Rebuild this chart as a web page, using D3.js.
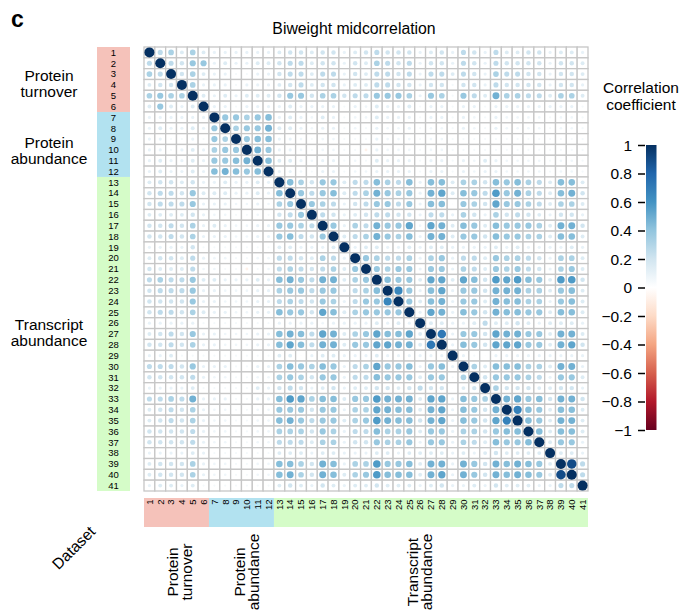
<!DOCTYPE html>
<html>
<head>
<meta charset="utf-8">
<script src="https://cdn.jsdelivr.net/npm/d3@7"></script>
<style>
body { margin: 0; background: #fff; }
text { font-family: "Liberation Sans", Arial, Helvetica, sans-serif; fill: #000; }
</style>
</head>
<body>
<script>
// dataset ids, 1..41
var datasets = d3.range(1, 42).map(String)

// dataset groups
var groupNames = [['Protein', 'turnover'], ['Protein', 'abundance'], ['Transcript', 'abundance']]
var groupStart = [1, 7, 13]
var groupEnd = [6, 12, 41]
var groupColors = ['#f5c2ba', '#b2e2f0', '#d5fcc8']

// colour bar ticks
var legendTicks = [1, 0.8, 0.6, 0.4, 0.2, 0, -0.2, -0.4, -0.6, -0.8, -1]

// corrplot palette (col2 / RdBu), from -1 to 1
var palette = ['#67001F', '#B2182B', '#D6604D', '#F4A582', '#FDDBC7', '#FFFFFF',
    '#D1E5F0', '#92C5DE', '#4393C3', '#2166AC', '#053061']

// lower triangle of the symmetric matrix: row i holds columns 1..i-1
var corrLower = [
    [],
    [0.26],
    [0.32, 0.26],
    [0.15, 0.2, 0.2],
    [0.32, 0.38, 0.32, 0.32],
    [0.15, 0.38, 0.15, 0.1, 0.15],
    [0.1, 0.1, 0.1, 0.1, 0.1, 0.1],
    [0.1, 0.15, 0.1, 0.1, 0.15, 0.1, 0.38],
    [0.1, 0.1, 0.05, 0.05, 0.1, 0.05, 0.38, 0.32],
    [0.1, 0.1, 0.05, 0.1, 0.15, 0.1, 0.32, 0.38, 0.38],
    [0.1, 0.15, 0.1, 0.1, 0.15, 0.1, 0.38, 0.38, 0.43, 0.48],
    [0.1, 0.15, 0.1, 0.1, 0.15, 0.1, 0.43, 0.48, 0.43, 0.38, 0.43],
    [0.15, 0.2, 0.2, 0.15, 0.2, 0.1, 0.1, 0.15, 0.1, 0.1, 0.15, 0.1],
    [0.2, 0.26, 0.26, 0.2, 0.38, 0.15, 0.15, 0.15, 0.1, 0.1, 0.15, 0.1, 0.43],
    [0.2, 0.26, 0.26, 0.26, 0.38, 0.1, 0.1, 0.1, 0.07, 0.07, 0.1, 0.07, 0.32, 0.38],
    [0.15, 0.15, 0.15, 0.15, 0.2, 0.1, 0.07, 0.07, 0.05, 0.05, 0.07, 0.05, 0.2, 0.26, 0.38],
    [0.2, 0.2, 0.26, 0.2, 0.32, 0.1, 0.15, 0.1, 0.07, 0.07, 0.1, 0.1, 0.38, 0.38, 0.32, 0.26],
    [0.2, 0.2, 0.26, 0.2, 0.32, 0.1, 0.1, 0.1, 0.07, 0.07, 0.1, 0.1, 0.38, 0.43, 0.26, 0.2, 0.38],
    [0.1, 0.1, 0.1, 0.1, 0.2, 0.05, 0.05, 0.05, 0.05, 0.05, 0.05, 0.05, 0.15, 0.15, 0.1, 0.1, 0.1, 0.15],
    [0.15, 0.2, 0.2, 0.15, 0.26, 0.1, 0.07, 0.07, 0.05, 0.05, 0.07, 0.07, 0.26, 0.26, 0.2, 0.15, 0.32, 0.26, 0.1],
    [0.2, 0.15, 0.15, 0.15, 0.26, 0.07, 0.07, 0.05, 0.05, -0.08, 0.05, 0.07, 0.26, 0.32, 0.26, 0.2, 0.26, 0.32, 0.15, 0.38],
    [0.26, 0.32, 0.26, 0.26, 0.38, 0.15, 0.15, 0.1, 0.1, 0.1, 0.15, 0.1, 0.43, 0.48, 0.38, 0.26, 0.48, 0.48, 0.15, 0.32, 0.38],
    [0.2, 0.26, 0.26, 0.26, 0.38, 0.1, 0.1, 0.07, 0.07, 0.07, 0.1, 0.1, 0.32, 0.38, 0.38, 0.26, 0.38, 0.38, 0.1, 0.26, 0.32, 0.43],
    [0.2, 0.2, 0.2, 0.2, 0.38, 0.1, 0.1, 0.07, 0.07, 0.07, 0.1, 0.1, 0.26, 0.32, 0.26, 0.2, 0.38, 0.32, 0.1, 0.26, 0.38, 0.38, 0.66],
    [0.2, 0.26, 0.26, 0.2, 0.32, 0.15, 0.1, 0.1, 0.07, 0.07, 0.1, 0.1, 0.43, 0.38, 0.38, 0.2, 0.53, 0.43, 0.15, 0.32, 0.38, 0.38, 0.38, 0.38],
    [0.1, 0.1, 0.1, 0.1, 0.1, 0.05, 0.05, 0.05, 0.05, 0.05, 0.05, 0.05, 0.1, 0.1, 0.1, 0.1, 0.07, 0.1, 0.1, 0.1, 0.1, 0.15, 0.1, 0.15, 0.1],
    [0.15, 0.2, 0.26, 0.2, 0.38, 0.1, 0.1, 0.07, 0.07, 0.07, 0.1, 0.1, 0.43, 0.48, 0.43, 0.26, 0.53, 0.48, 0.15, 0.32, 0.38, 0.53, 0.43, 0.43, 0.53, 0.15],
    [0.2, 0.2, 0.26, 0.2, 0.32, 0.1, 0.1, 0.07, 0.07, 0.07, 0.1, 0.1, 0.43, 0.53, 0.43, 0.26, 0.48, 0.48, 0.15, 0.38, 0.38, 0.53, 0.53, 0.48, 0.48, 0.15, 0.72],
    [0.1, 0.1, 0.15, 0.05, 0.05, 0.05, 0.05, 0.05, 0.05, 0.05, 0.05, 0.05, 0.15, 0.15, 0.02, 0.1, 0.15, 0.15, 0.1, 0.1, 0.1, 0.15, 0.1, 0.1, 0.1, 0.1, 0.1, 0.1],
    [0.26, 0.26, 0.26, 0.2, 0.38, 0.1, 0.1, 0.1, 0.05, 0.05, 0.1, 0.1, 0.32, 0.43, 0.38, 0.32, 0.43, 0.38, 0.1, 0.26, 0.32, 0.53, 0.38, 0.38, 0.43, 0.1, 0.38, 0.43, 0.1],
    [0.2, 0.2, 0.2, 0.2, 0.26, 0.1, 0.07, 0.07, 0.05, 0.05, 0.07, 0.07, 0.32, 0.38, 0.32, 0.2, 0.38, 0.38, 0.1, 0.26, 0.26, 0.43, 0.38, 0.38, 0.38, 0.15, 0.38, 0.38, 0.05, 0.32],
    [0.1, 0.1, 0.1, 0.1, 0.15, 0.05, 0.05, 0.05, 0.05, 0.05, 0.15, 0.1, 0.2, 0.26, 0.2, 0.1, 0.15, 0.2, 0.1, 0.15, 0.15, 0.2, 0.2, 0.15, 0.2, 0.26, 0.2, 0.2, 0.02, 0.15, 0.2],
    [0.26, 0.26, 0.32, 0.26, 0.48, 0.1, 0.1, 0.1, 0.05, 0.05, 0.1, 0.1, 0.43, 0.57, 0.53, 0.32, 0.43, 0.43, 0.15, 0.38, 0.38, 0.57, 0.48, 0.48, 0.48, 0.15, 0.53, 0.53, 0.1, 0.43, 0.38, 0.32],
    [0.15, 0.2, 0.26, 0.2, 0.32, 0.1, 0.07, 0.07, 0.05, 0.05, 0.07, 0.07, 0.38, 0.38, 0.38, 0.2, 0.38, 0.38, 0.1, 0.32, 0.32, 0.53, 0.48, 0.43, 0.43, 0.15, 0.48, 0.53, 0.1, 0.43, 0.38, 0.2, 0.48],
    [0.15, 0.2, 0.26, 0.2, 0.32, 0.1, 0.07, 0.07, 0.05, 0.05, 0.07, 0.07, 0.43, 0.48, 0.38, 0.26, 0.38, 0.38, 0.15, 0.32, 0.38, 0.57, 0.48, 0.43, 0.43, 0.2, 0.48, 0.53, 0.1, 0.43, 0.38, 0.2, 0.53, 0.68],
    [0.2, 0.2, 0.2, 0.2, 0.26, 0.1, 0.07, 0.07, 0.05, 0.05, 0.07, 0.07, 0.32, 0.32, 0.32, 0.2, 0.38, 0.32, 0.1, 0.26, 0.26, 0.43, 0.32, 0.32, 0.38, 0.15, 0.38, 0.38, 0.1, 0.32, 0.32, 0.2, 0.38, 0.43, 0.43],
    [0.2, 0.2, 0.2, 0.2, 0.26, 0.1, 0.07, 0.07, 0.05, 0.05, 0.07, 0.07, 0.26, 0.26, 0.26, 0.15, 0.32, 0.32, 0.1, 0.2, 0.2, 0.38, 0.32, 0.32, 0.38, 0.1, 0.38, 0.38, 0.1, 0.32, 0.26, 0.15, 0.43, 0.38, 0.38, 0.43],
    [0.1, 0.1, 0.1, 0.1, 0.15, 0.1, 0.05, 0.05, 0.05, 0.05, 0.05, 0.05, 0.15, 0.15, 0.15, 0.1, 0.15, 0.15, 0.1, 0.1, 0.1, 0.15, 0.15, 0.1, 0.15, 0.15, 0.15, 0.15, 0.1, 0.15, 0.1, 0.15, 0.2, 0.15, 0.15, 0.15, 0.15],
    [0.15, 0.2, 0.2, 0.2, 0.32, 0.1, 0.07, 0.07, 0.05, 0.05, 0.07, 0.07, 0.43, 0.43, 0.32, 0.2, 0.48, 0.43, 0.1, 0.32, 0.32, 0.57, 0.38, 0.38, 0.43, 0.15, 0.48, 0.48, 0.1, 0.48, 0.38, 0.2, 0.48, 0.43, 0.48, 0.43, 0.38, 0.15],
    [0.15, 0.2, 0.2, 0.2, 0.32, 0.1, 0.07, 0.07, 0.05, 0.05, 0.07, 0.07, 0.43, 0.48, 0.32, 0.2, 0.48, 0.43, 0.15, 0.32, 0.38, 0.57, 0.43, 0.43, 0.43, 0.15, 0.48, 0.53, 0.1, 0.48, 0.38, 0.2, 0.48, 0.43, 0.48, 0.43, 0.38, 0.15, 0.9],
    [0.1, 0.15, 0.15, 0.1, 0.15, 0.05, 0.05, 0.05, 0.05, 0.05, 0.05, 0.05, 0.15, 0.2, 0.15, 0.1, 0.2, 0.15, 0.1, 0.15, 0.15, 0.2, 0.15, 0.15, 0.15, 0.1, 0.15, 0.2, 0.1, 0.1, 0.15, 0.1, 0.2, 0.15, 0.15, 0.15, 0.1, 0.1, 0.26, 0.26]
]

// layout
var W = 688, H = 611
var grid = { left: 144, top: 47, size: 444 }
var fontFamily = '"Liberation Sans", Arial, Helvetica, sans-serif'

// build full symmetric matrix
var cells = []
datasets.forEach((ri, i) => {
    datasets.forEach((cj, j) => {
        var v
        if (i === j) v = 1
        else if (i > j) v = corrLower[i][j]
        else v = corrLower[j][i]
        cells.push({ row: ri, col: cj, value: v === undefined ? 0 : v })
    })
})

// scales
var x = d3.scaleBand().domain(datasets).range([grid.left, grid.left + grid.size])
var y = d3.scaleBand().domain(datasets).range([grid.top, grid.top + grid.size])
var bw = x.bandwidth()
var color = d3.scaleLinear()
    .domain(d3.range(11).map(i => -1 + i * 0.2))
    .range(palette)
var radius = d => Math.sqrt(Math.abs(d)) * (bw / 2 - 0.4)

var svg = d3.select('body').append('svg')
    .attr('width', W)
    .attr('height', H)

// panel letter and title
svg.append('text')
    .attr('x', 11).attr('y', 27)
    .attr('font-size', 23).attr('font-weight', 'bold')
    .text('c')

svg.append('text')
    .attr('x', 354).attr('y', 34)
    .attr('text-anchor', 'middle')
    .attr('font-size', 15.8)
    .text('Biweight midcorrelation')

// group colour strips on the left and bottom
var groups = groupNames.map((n, k) => ({
    name: n,
    start: String(groupStart[k]),
    end: String(groupEnd[k]),
    color: groupColors[k]
}))

svg.append('g').selectAll('rect')
    .data(groups).enter().append('rect')
    .attr('x', 97).attr('width', 33)
    .attr('y', d => y(d.start))
    .attr('height', d => y(d.end) + bw - y(d.start))
    .attr('fill', d => d.color)

svg.append('g').selectAll('rect')
    .data(groups).enter().append('rect')
    .attr('y', 498).attr('height', 29)
    .attr('x', d => x(d.start))
    .attr('width', d => x(d.end) + bw - x(d.start))
    .attr('fill', d => d.color)

// dataset numbers
svg.append('g').selectAll('text')
    .data(datasets).enter().append('text')
    .attr('x', 113.5)
    .attr('y', d => y(d) + bw / 2 + 3.3)
    .attr('text-anchor', 'middle')
    .attr('font-size', 9.5)
    .text(d => d)

svg.append('g').selectAll('text')
    .data(datasets).enter().append('text')
    .attr('transform', d => `translate(${x(d) + bw / 2 + 3.3}, 499.5) rotate(-90)`)
    .attr('text-anchor', 'end')
    .attr('font-size', 9.5)
    .text(d => d)

// group names, left side
var leftShift = [2, 4, -4]
groups.forEach((g, k) => {
    var mid = (y(g.start) + y(g.end) + bw) / 2 + leftShift[k]
    var t = svg.append('text')
        .attr('text-anchor', 'middle')
        .attr('font-size', 15.5)
    t.append('tspan').attr('x', 49).attr('y', mid).text(g.name[0])
    t.append('tspan').attr('x', 49).attr('y', mid + 16).text(g.name[1])
})

// group names, bottom (rotated)
var bottomShift = [1.5, 3.5, -13]
groups.forEach((g, k) => {
    var mid = (x(g.start) + x(g.end) + bw) / 2 + bottomShift[k]
    var t = svg.append('text')
        .attr('transform', `translate(${mid}, 572) rotate(-90)`)
        .attr('text-anchor', 'middle')
        .attr('font-size', 15.5)
    t.append('tspan').attr('x', 0).attr('y', 0).text(g.name[0])
    t.append('tspan').attr('x', 0).attr('y', 14.5).text(g.name[1])
})

svg.append('text')
    .attr('transform', 'translate(77.5, 551.5) rotate(-45)')
    .attr('text-anchor', 'middle')
    .attr('font-size', 15.5)
    .text('Dataset')

// grid cells
var mat = svg.append('g')
mat.selectAll('rect')
    .data(cells).enter().append('rect')
    .attr('x', d => x(d.col))
    .attr('y', d => y(d.row))
    .attr('width', bw)
    .attr('height', bw)
    .attr('fill', '#fff')
    .attr('stroke', '#c6c6c6')
    .attr('stroke-width', 1.3)

// correlation circles
mat.selectAll('circle')
    .data(cells).enter().append('circle')
    .attr('cx', d => x(d.col) + bw / 2)
    .attr('cy', d => y(d.row) + bw / 2)
    .attr('r', d => radius(d.value))
    .attr('fill', d => color(d.value))

// colour bar legend
var legTop = 145, legBottom = 430
var yLeg = d3.scaleLinear().domain([-1, 1]).range([legBottom, legTop])

var defs = svg.append('defs')
var grad = defs.append('linearGradient')
    .attr('id', 'corrGrad')
    .attr('x1', 0).attr('y1', 1).attr('x2', 0).attr('y2', 0)
grad.selectAll('stop')
    .data(palette).enter().append('stop')
    .attr('offset', (d, i) => i / (palette.length - 1))
    .attr('stop-color', d => d)

svg.append('rect')
    .attr('x', 646).attr('width', 10.5)
    .attr('y', legTop).attr('height', legBottom - legTop)
    .attr('fill', 'url(#corrGrad)')

var legAxis = svg.append('g')
    .attr('transform', 'translate(645, 0)')
    .call(d3.axisLeft(yLeg).tickValues(legendTicks).tickFormat(d3.format('~g')).tickSize(7).tickPadding(6))
legAxis.select('.domain').remove()
legAxis.selectAll('line').attr('stroke', '#000').attr('stroke-width', 1.5)
legAxis.selectAll('text')
    .attr('font-size', 15.5)
    .attr('font-family', fontFamily)
    .attr('fill', '#000')
    .attr('dy', '0.35em')

var lt = svg.append('text')
    .attr('text-anchor', 'middle')
    .attr('font-size', 15.5)
lt.append('tspan').attr('x', 641).attr('y', 93).text('Correlation')
lt.append('tspan').attr('x', 641).attr('y', 110).text('coefficient')
</script>
</body>
</html>
